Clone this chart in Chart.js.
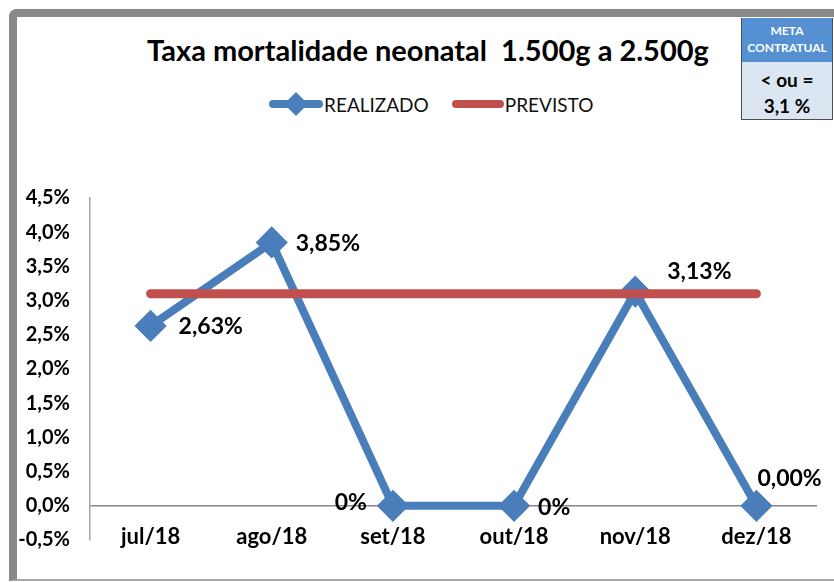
<!DOCTYPE html>
<html lang="pt-BR">
<head>
<meta charset="UTF-8">
<title>Taxa mortalidade neonatal</title>
<script src="https://cdn.jsdelivr.net/npm/chart.js"></script>
<style>
  body { margin:0; background:#fff; width:834px; height:582px; overflow:hidden; position:relative; font-family:Lato, "DejaVu Sans", sans-serif; }
  .moldura { position:absolute; left:9px; top:9px; width:900px; height:562px; border-left:8px solid #898989; border-top:8px solid #898989; border-bottom:2px solid #a6a6a6; border-top-left-radius:8px; }
  .titulo { position:absolute; left:0; top:32px; width:856px; text-align:center; font-weight:bold; font-size:29px; white-space:pre; color:#000; }
  .legenda { position:absolute; top:91px; left:268px; font-size:19px; color:#111; display:flex; align-items:center; }
  .legenda span { margin-right:22px; }
  .legenda svg { vertical-align:middle; }
  .meta { position:absolute; left:741px; top:18px; width:90px; height:101px; border:1px solid #4d4d4d; border-top:none; background:#dce6f2; z-index:3; }
  .meta-h { height:44px; background:#5591d2; color:#fff; font-weight:bold; font-size:12px; line-height:17px; text-align:center; padding-top:4px; box-sizing:border-box; }
  .meta-b { font-weight:bold; font-size:19px; line-height:26px; text-align:center; padding-top:5px; color:#000; }
  #grafico { position:absolute; left:0; top:0; }
</style>
</head>
<body>
  <div class="moldura"></div>
  <div class="titulo">Taxa mortalidade neonatal  1.500g a 2.500g</div>

  <!-- Legenda -->
  <div class="legenda">
    <svg width="56" height="26" viewBox="0 0 56 26">
      <line x1="5" y1="13" x2="51" y2="13" stroke="#4a7ebb" stroke-width="8" stroke-linecap="round"/>
      <polygon points="28,1 40,13 28,25 16,13" fill="#4a7ebb"/>
    </svg>
    <span>REALIZADO</span>
    <svg width="54" height="26" viewBox="0 0 54 26">
      <line x1="5" y1="13" x2="49" y2="13" stroke="#c0504d" stroke-width="8" stroke-linecap="round"/>
    </svg>
    <span>PREVISTO</span>
  </div>

  <div class="meta">
    <div class="meta-h">META<br>CONTRATUAL</div>
    <div class="meta-b">&lt; ou =<br>3,1 %</div>
  </div>

  <canvas id="grafico" width="834" height="582"></canvas>

<script>
  // dados
  const categorias = ['jul/18', 'ago/18', 'set/18', 'out/18', 'nov/18', 'dez/18'];
  const realizado = [2.63, 3.85, 0, 0, 3.13, 0];
  const previsto = [3.1, 3.1, 3.1, 3.1, 3.1, 3.1];
  const rotulos = ['2,63%', '3,85%', '0%', '0%', '3,13%', '0,00%'];
  const yMin = -0.5, yMax = 4.5, yPasso = 0.5;

  // deslocamento dos rótulos em relação ao ponto [dx, dy, alinhamento]
  const rotuloPos = [[28, 1, 'left'], [24, 1, 'left'], [-26, -3, 'right'], [24, 2, 'left'], [32, -20, 'left'], [1, -27, 'left']];

  const fonte = 'Lato, "DejaVu Sans", sans-serif';

  // rótulos de dados + rótulos das categorias (sobre o eixo, como no Excel)
  const rotulosPlugin = {
    id: 'rotulos',
    afterDatasetsDraw(chart) {
      const ctx = chart.ctx;
      const meta = chart.getDatasetMeta(1);
      const xs = chart.scales.x;
      ctx.save();
      ctx.textBaseline = 'middle';
      ctx.fillStyle = '#000';
      ctx.font = 'bold 22px ' + fonte;
      ctx.textAlign = 'center';
      categorias.forEach((c, i) => {
        ctx.fillText(c, xs.getPixelForValue(i), chart.chartArea.bottom - 3);
      });
      ctx.font = 'bold 23px ' + fonte;
      meta.data.forEach((pt, i) => {
        const p = rotuloPos[i];
        ctx.textAlign = p[2];
        ctx.fillText(rotulos[i], pt.x + p[0], pt.y + p[1]);
      });
      ctx.restore();
    }
  };

  new Chart(document.getElementById('grafico'), {
    type: 'line',
    data: {
      labels: categorias,
      datasets: [
        {
          label: 'PREVISTO',
          data: previsto,
          borderColor: '#c0504d',
          borderWidth: 9,
          borderCapStyle: 'round',
          pointRadius: 0,
          order: 1
        },
        {
          label: 'REALIZADO',
          data: realizado,
          borderColor: '#4a7ebb',
          backgroundColor: '#4a7ebb',
          borderWidth: 8,
          borderCapStyle: 'round',
          borderJoinStyle: 'round',
          pointStyle: 'rectRot',
          pointRadius: 14,
          pointBorderWidth: 3,
          pointBorderColor: '#4a7ebb',
          pointBackgroundColor: '#4a7ebb',
          order: 2
        }
      ]
    },
    options: {
      responsive: false,
      animation: false,
      devicePixelRatio: 1,
      layout: { padding: { left: 10, right: 17, top: 198, bottom: 42 } },
      plugins: { legend: { display: false }, tooltip: { enabled: false } },
      scales: {
        x: {
          offset: true,
          grid: { display: false, drawTicks: false },
          border: { display: false },
          ticks: { display: false },
          afterFit: s => { s.height = 0; }
        },
        y: {
          min: yMin,
          max: yMax,
          ticks: {
            stepSize: yPasso,
            padding: 20,
            color: '#000',
            font: { family: fonte, weight: 'bold', size: 20 },
            callback: v => v.toFixed(1).replace('.', ',') + '%'
          },
          grid: {
            drawTicks: false,
            lineWidth: 1.5,
            color: c => Math.abs(c.tick.value) < 1e-9 ? '#868686' : 'rgba(0,0,0,0)'
          },
          border: { display: true, color: '#a6a6a6', width: 1.5 },
          afterFit: s => { s.width = 80; }
        }
      }
    },
    plugins: [rotulosPlugin]
  });
</script>
</body>
</html>
